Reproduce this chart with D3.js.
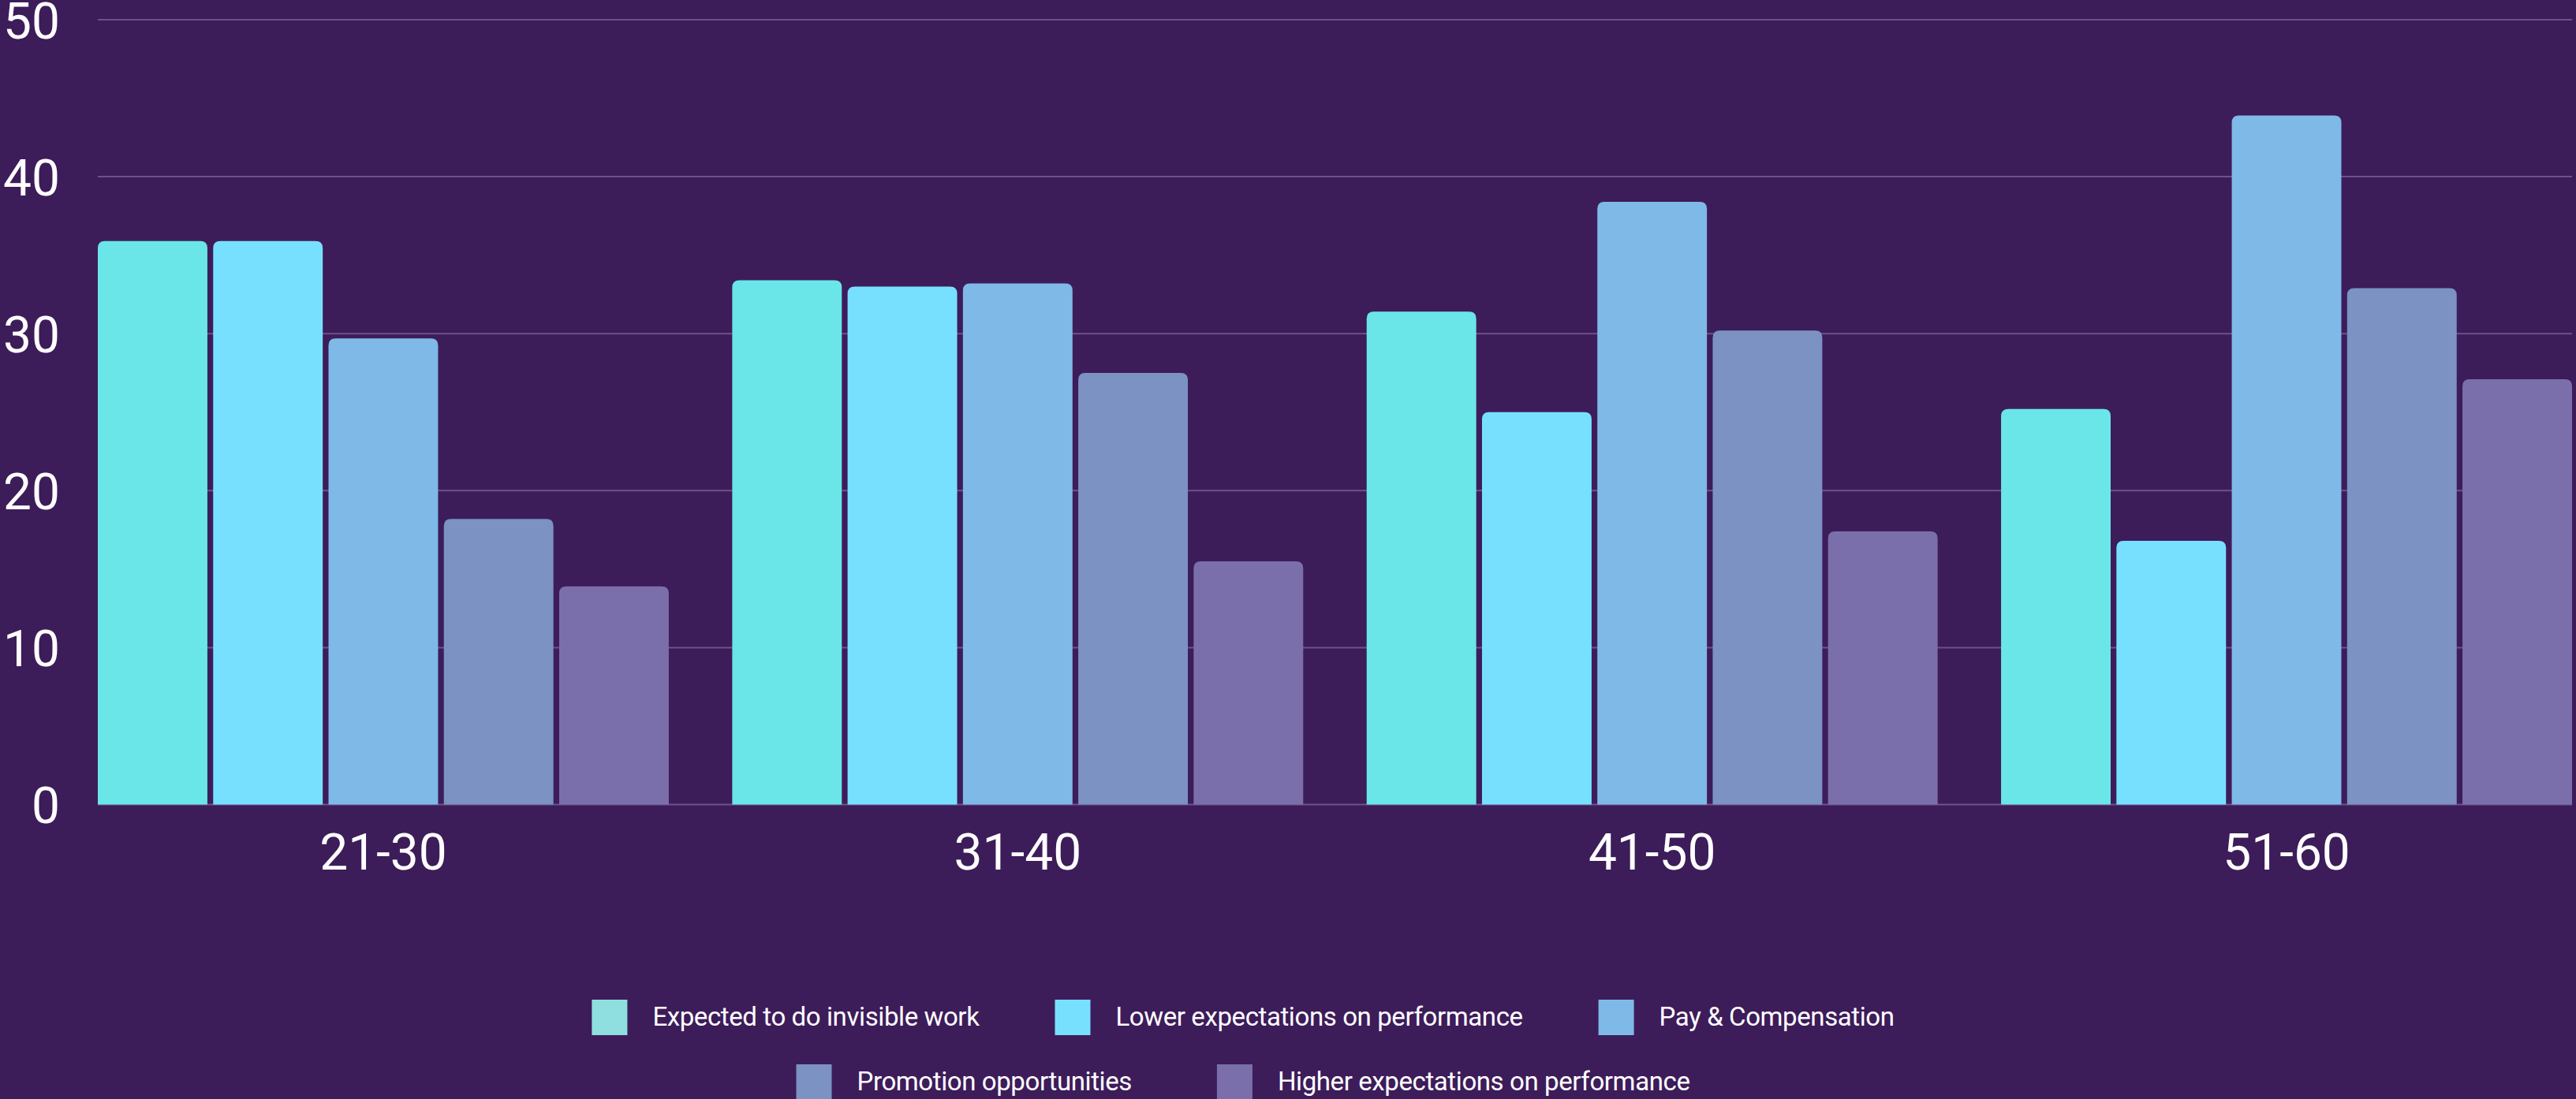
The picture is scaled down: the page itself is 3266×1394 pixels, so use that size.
<!DOCTYPE html>
<html>
<head>
<meta charset="utf-8">
<script src="https://cdn.jsdelivr.net/npm/d3@7"></script>
<style>
  html, body { margin: 0; padding: 0; background: #3d1c5a; }
  svg { display: block; }
  text { font-family: Roboto, "Noto Sans", sans-serif; fill: #ffffff; }
</style>
</head>
<body>
<svg id="chart" width="3266" height="1394"></svg>
<script>
// Age groups on the x axis
const ageGroups = ["21-30", "31-40", "41-50", "51-60"];

// Survey factors (one bar per factor inside each age group)
const factors = [
  "Expected to do invisible work",
  "Lower expectations on performance",
  "Pay & Compensation",
  "Promotion opportunities",
  "Higher expectations on performance"
];

// Percent of respondents, one array per factor, ordered by age group
const invisibleWork     = [35.9, 33.4, 31.4, 25.2];
const lowerExpectations = [35.9, 33.0, 25.0, 16.8];
const payCompensation   = [29.7, 33.2, 38.4, 43.9];
const promotion         = [18.2, 27.5, 30.2, 32.9];
const higherExpectations= [13.9, 15.5, 17.4, 27.1];

const seriesValues = [invisibleWork, lowerExpectations, payCompensation, promotion, higherExpectations];

// Y axis ticks
const yTicks = [0, 10, 20, 30, 40, 50];

// Styling
const barColors    = ["#6ae6e8", "#78e0ff", "#7fb9e7", "#7b92c3", "#7a6fab"];
const legendColors = ["#8fdfe0", "#78e0ff", "#7fb9e7", "#7b92c3", "#7a6fab"];
const gridColor = "#6c5289";

const svg = d3.select("#chart");
const W = 3266, H = 1394;
const plot = { left: 124, right: 3261, top: 25, bottom: 1020.5 };

svg.append("rect").attr("width", W).attr("height", H).attr("fill", "#3d1c5a");

const y = d3.scaleLinear().domain([0, 50]).range([plot.bottom, plot.top]);
const x0 = d3.scaleBand().domain(ageGroups).range([plot.left, plot.right])
  .paddingInner(0.1).paddingOuter(0);
const x1 = d3.scaleBand().domain(d3.range(factors.length)).range([0, x0.bandwidth()])
  .paddingInner(0.05).paddingOuter(0);

// Gridlines
svg.append("g").selectAll("line")
  .data(yTicks)
  .join("line")
  .attr("x1", plot.left)
  .attr("x2", plot.right)
  .attr("y1", d => y(d))
  .attr("y2", d => y(d))
  .attr("stroke", gridColor)
  .attr("stroke-width", 2);

// Y axis labels
const yAxis = d3.axisLeft(y).tickValues(yTicks).tickSize(0).tickPadding(0);
const gy = svg.append("g").attr("transform", "translate(76,0)").call(yAxis);
gy.select(".domain").remove();
gy.selectAll("text")
  .attr("font-size", 64)
  .attr("font-family", "Roboto")
  .attr("fill", "#ffffff")
  .attr("dy", "0.36em");

// Bars with rounded top corners
function topRounded(xp, yp, w, h, r) {
  r = Math.min(r, h, w / 2);
  return `M${xp},${yp + h}` +
    `V${yp + r}` +
    `Q${xp},${yp} ${xp + r},${yp}` +
    `H${xp + w - r}` +
    `Q${xp + w},${yp} ${xp + w},${yp + r}` +
    `V${yp + h}Z`;
}

const groups = svg.append("g").selectAll("g")
  .data(ageGroups)
  .join("g")
  .attr("transform", d => `translate(${x0(d)},0)`);

groups.selectAll("path")
  .data((g, gi) => seriesValues.map((vals, si) => ({ si, v: vals[gi] })))
  .join("path")
  .attr("d", d => topRounded(x1(d.si), y(d.v), x1.bandwidth(), y(0) - y(d.v), 9))
  .attr("fill", d => barColors[d.si]);

// X axis labels
const xAxis = d3.axisBottom(x0).tickSize(0).tickPadding(0);
const gx = svg.append("g").attr("transform", `translate(0,${plot.bottom})`).call(xAxis);
gx.select(".domain").remove();
gx.selectAll("text")
  .attr("font-size", 64)
  .attr("font-family", "Roboto")
  .attr("fill", "#ffffff")
  .attr("dy", null)
  .attr("y", 82);

// Legend in two centred rows
const legendRows = [[0, 1, 2], [3, 4]];
const rowTop = [1268, 1350];
const rowGap = [96, 108];
const swatch = 45, textGap = 32, legendCenter = 1576;

legendRows.forEach((row, ri) => {
  const g = svg.append("g");
  const items = row.map(i => {
    const ig = g.append("g");
    ig.append("rect")
      .attr("width", swatch).attr("height", swatch)
      .attr("y", rowTop[ri])
      .attr("fill", legendColors[i]);
    const t = ig.append("text")
      .attr("x", swatch + textGap)
      .attr("y", rowTop[ri] + 33)
      .attr("font-size", 33)
      .attr("letter-spacing", "-0.4px")
      .text(factors[i]);
    return { ig, w: swatch + textGap + t.node().getComputedTextLength() };
  });
  const total = d3.sum(items, d => d.w) + rowGap[ri] * (items.length - 1);
  let cx = legendCenter - total / 2;
  items.forEach(it => {
    it.ig.attr("transform", `translate(${cx},0)`);
    cx += it.w + rowGap[ri];
  });
});
</script>
</body>
</html>
